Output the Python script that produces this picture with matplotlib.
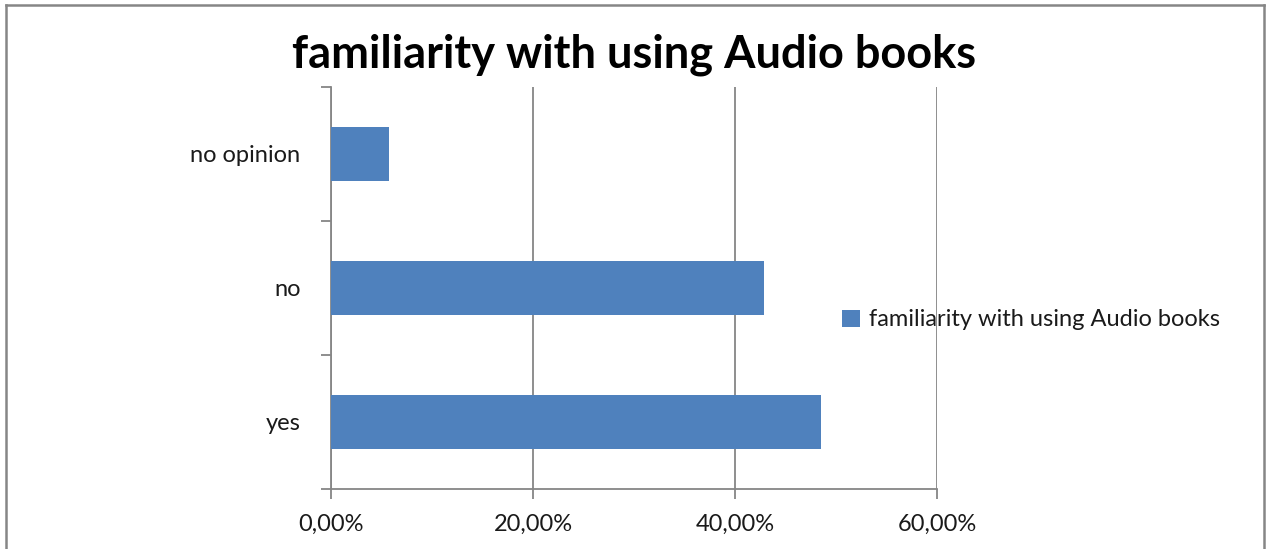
import matplotlib
matplotlib.use("Agg")
import matplotlib.pyplot as plt
from matplotlib.lines import Line2D
from matplotlib.ticker import FuncFormatter, FixedLocator

categories = ["yes", "no", "no opinion"]
values = [48.5, 42.9, 5.7]
series_name = "familiarity with using Audio books"
title = "familiarity with using Audio books"

plt.rcParams['font.family'] = ['Lato', 'DejaVu Sans']

fig = plt.figure(figsize=(12.7, 5.49), dpi=100)
ax = fig.add_axes([331 / 1270, 1 - 489 / 549, (937 - 331) / 1270, (489 - 87) / 549])

pos = list(range(len(categories)))
ax.barh(pos, values, height=0.4, color="#4F81BD", zorder=3, label=series_name)

ax.set_xlim(0, 60)
ax.set_ylim(-0.5, len(categories) - 0.5)
ax.set_xticks([0, 20, 40, 60])
ax.xaxis.set_major_formatter(FuncFormatter(lambda v, p: f"{v:.2f}%".replace(".", ",")))
ax.set_yticks(pos)
ax.set_yticklabels(categories)
ax.yaxis.set_minor_locator(FixedLocator([p - 0.5 for p in pos] + [len(pos) - 0.5]))

ax.grid(axis="x", color="#868686", linewidth=1.3, zorder=0)
for s in ["top", "right"]:
    ax.spines[s].set_visible(False)
for s in ["left", "bottom"]:
    ax.spines[s].set_color("#868686")
    ax.spines[s].set_linewidth(1.3)

ax.tick_params(axis="y", which="major", length=0, pad=22, labelsize=17, labelcolor="#1a1a1a")
ax.tick_params(axis="y", which="minor", length=7, color="#868686", width=1.3)
ax.tick_params(axis="x", length=7, color="#868686", width=1.3, labelsize=17,
               pad=11, labelcolor="#1a1a1a")

fig.text(634 / 1270, 1 - 55 / 549, title, ha="center", va="center",
         fontsize=32.5, fontweight="bold", color="#000000")

leg = fig.legend(loc="center left", bbox_to_anchor=(821 / 1270, 1 - 320 / 549),
                 frameon=False, fontsize=17, handlelength=0.75, handleheight=0.75,
                 handletextpad=0.4, labelcolor="#1a1a1a")

# outer chart frame (left, top, right; bottom is cut off)
bx0, bx1 = 6 / 1270, 1264 / 1270
by1 = 1 - 5 / 549
for xs, ys in [([bx0, bx0], [0, by1]), ([bx0, bx1], [by1, by1]), ([bx1, bx1], [0, by1])]:
    fig.add_artist(Line2D(xs, ys, transform=fig.transFigure, color="#868686", linewidth=1.8))

fig.savefig("out.png", dpi=100)
plt.close(fig)
